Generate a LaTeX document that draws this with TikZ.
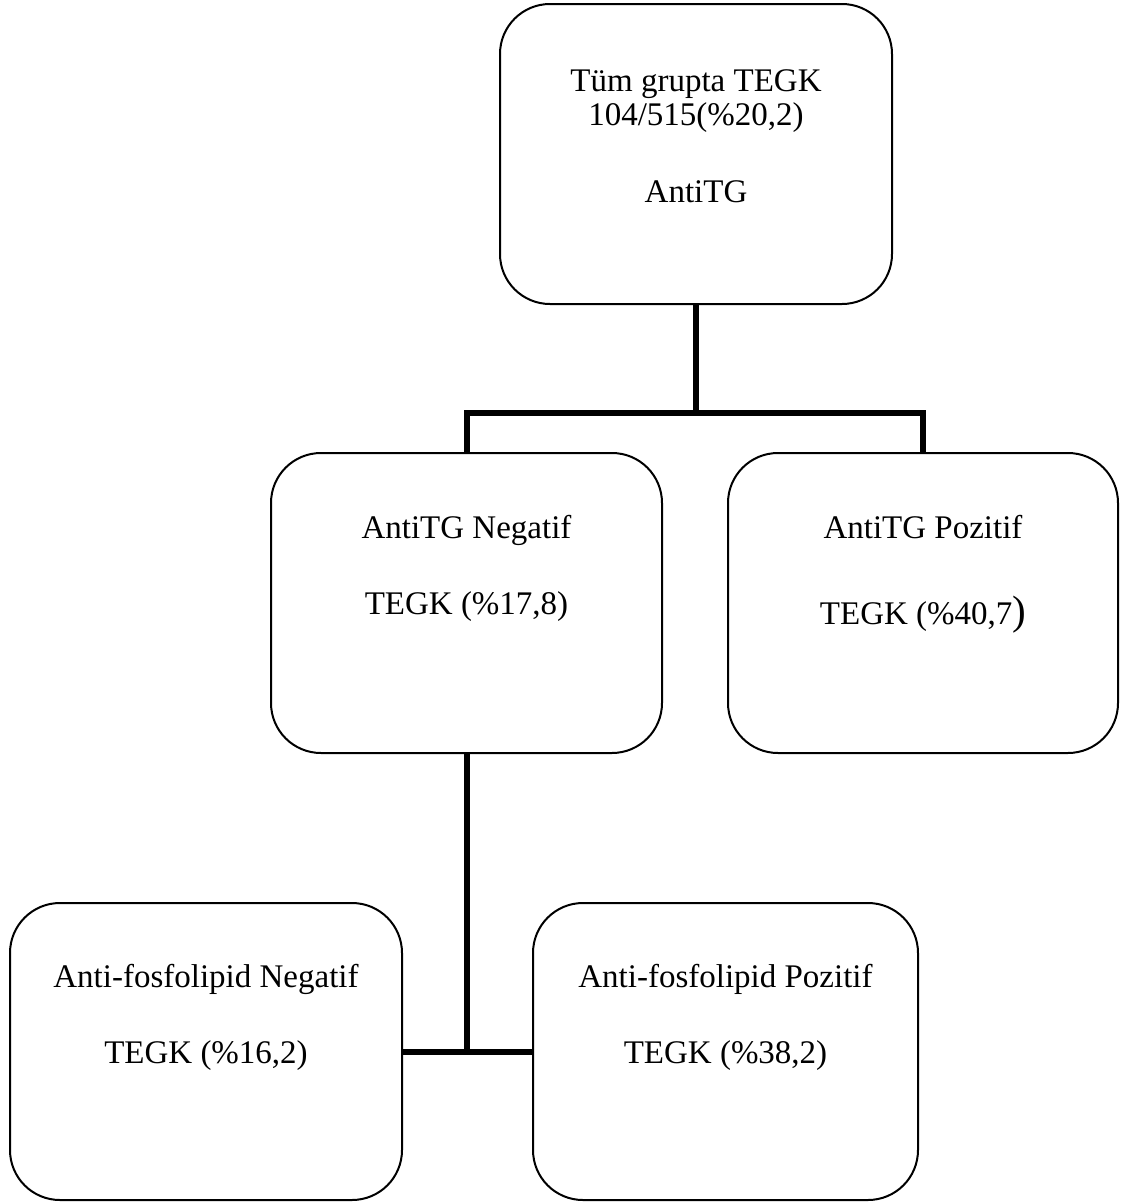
\documentclass[tikz,border=0pt]{standalone}
\usepackage{fontspec}
\setmainfont{Liberation Serif}
\begin{document}
\begin{tikzpicture}[x=1pt,y=-1pt,
  box/.style={draw, line width=2pt, rounded corners=50pt, inner sep=0pt},
  conn/.style={draw, line width=6pt},
  txt/.style={anchor=base, inner sep=0pt, font=\fontsize{33}{40}\selectfont}]
\useasboundingbox (0,0) rectangle (1120,1202);
\node[box, minimum width=392pt, minimum height=300pt] (top) at (696,154) {};
\node[box, minimum width=391pt, minimum height=300pt] (ml) at (466.5,603) {};
\node[box, minimum width=390pt, minimum height=300pt] (mr) at (923,603) {};
\node[box, minimum width=392pt, minimum height=297pt] (bl) at (206,1051.5) {};
\node[box, minimum width=385pt, minimum height=297pt] (br) at (725.5,1051.5) {};
\node[txt] (t1) at (696,91) {Tüm grupta TEGK};
\node[txt] (t2) at (696,125) {104/515(\%20,2)};
\node[txt] (t3) at (696,202) {AntiTG};
\node[txt] (m1) at (466.5,538) {AntiTG Negatif};
\node[txt] (m2) at (466.5,614) {TEGK (\%17,8)};
\node[txt] (r1) at (923,538) {AntiTG Pozitif};
\node[txt] (r2) at (923,624) {TEGK (\%40,7{\fontsize{41}{41}\selectfont )}};
\node[txt] (b1) at (206,987) {Anti-fosfolipid Negatif};
\node[txt] (b2) at (206,1063) {TEGK (\%16,2)};
\node[txt] (c1) at (725.5,987) {Anti-fosfolipid Pozitif};
\node[txt] (c2) at (725.5,1063) {TEGK (\%38,2)};
\coordinate (bus) at (696,413);
\draw[conn] (top.south) -- (bus);
\draw[conn] (ml.north) |- (bus) -| (mr.north);
\draw[conn] (ml.south) -- (ml.south |- bl.east);
\draw[conn] (bl.east) -- (br.west);
\end{tikzpicture}
\end{document}
